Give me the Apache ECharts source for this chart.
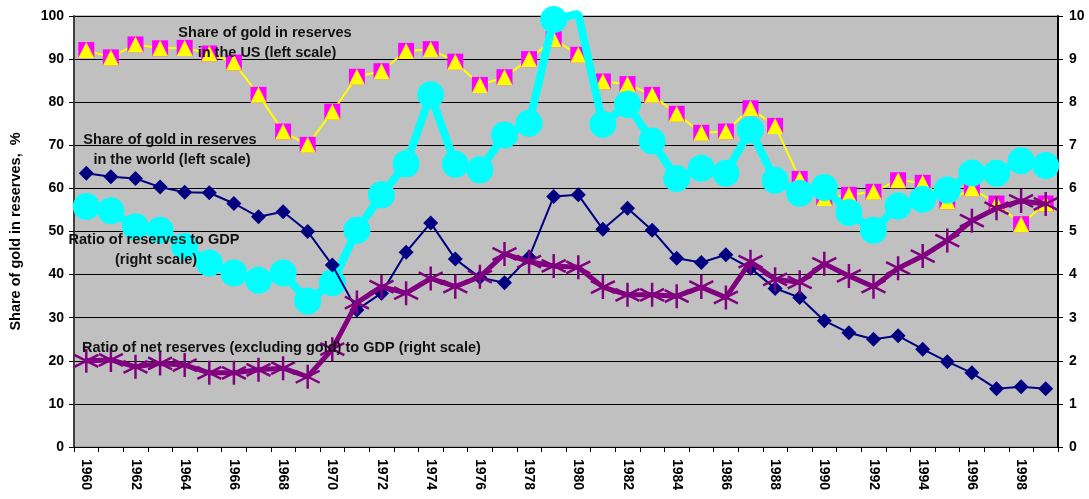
<!DOCTYPE html>
<html>
<head>
<meta charset="utf-8">
<script src="https://cdn.jsdelivr.net/npm/echarts@6/dist/echarts.min.js"></script>
<style>html,body{margin:0;padding:0;background:#fff;}#c{width:1089px;height:499px;}</style>
</head>
<body>
<div id="c"></div>
<script>
var years = [];
for (var y = 1960; y <= 1999; y++) years.push(String(y));

var usShare = [92.1, 90.4, 93.4, 92.5, 92.6, 91.3, 89.2, 81.7, 73.2, 70.1, 77.8, 85.9, 87.2, 91.9, 92.3, 89.4, 84.0, 85.8, 90.0, 94.6, 91.0, 84.8, 84.2, 81.7, 77.3, 72.9, 73.2, 78.6, 74.5, 62.2, 57.8, 58.5, 59.2, 61.9, 61.3, 57.0, 60.0, 56.5, 51.7, 56.5];
var worldShare = [63.5, 62.7, 62.3, 60.3, 59.1, 59.0, 56.5, 53.4, 54.6, 50.0, 42.2, 31.8, 35.7, 45.2, 52.0, 43.6, 39.3, 38.1, 44.0, 58.1, 58.5, 50.5, 55.4, 50.3, 43.8, 42.8, 44.6, 41.5, 36.8, 34.7, 29.3, 26.5, 25.0, 25.8, 22.7, 19.8, 17.2, 13.5, 14.0, 13.5];
var reservesGdp = [5.58, 5.48, 5.11, 5.03, 4.65, 4.27, 4.04, 3.87, 4.04, 3.39, 3.81, 5.03, 5.85, 6.57, 8.17, 6.56, 6.43, 7.24, 7.51, 9.92, 10.05, 7.49, 7.95, 7.10, 6.23, 6.47, 6.35, 7.36, 6.19, 5.89, 6.02, 5.44, 5.03, 5.59, 5.75, 5.96, 6.36, 6.35, 6.64, 6.53];
var netGdp = [2.00, 2.02, 1.86, 1.94, 1.90, 1.72, 1.72, 1.79, 1.83, 1.63, 2.27, 3.35, 3.72, 3.57, 3.91, 3.72, 3.95, 4.48, 4.30, 4.20, 4.17, 3.71, 3.53, 3.53, 3.50, 3.71, 3.47, 4.30, 3.89, 3.82, 4.25, 3.97, 3.72, 4.15, 4.43, 4.79, 5.25, 5.54, 5.71, 5.64];

var leftMax = 100, rightMax = 10;
var FONT = 'Arial, "Liberation Sans", sans-serif';

var chart = echarts.init(document.getElementById('c'), null, {renderer: 'canvas'});

var starPath = 'path://M0,-10L0,10M-8.66,-5L8.66,5M-8.66,5L8.66,-5';

var cyanData = reservesGdp.map(function (v) {
  return v > rightMax ? {value: v, symbol: 'none'} : v;
});

function note(text, x, y, align) {
  return {type: 'text', x: x, y: y, z: 100, style: {text: text, textAlign: align || 'center', textVerticalAlign: 'middle', font: 'bold 14.5px ' + FONT, fill: '#111'}};
}

chart.setOption({
  animation: false,
  backgroundColor: '#ffffff',
  grid: {left: 71, right: 31, top: 16, bottom: 52, show: true, backgroundColor: '#C0C0C0', borderColor: '#808080', borderWidth: 1},
  xAxis: {
    type: 'category', data: years, boundaryGap: true,
    axisLine: {show: true, lineStyle: {color: '#000', width: 1}},
    axisTick: {show: true, length: 5, interval: 0, lineStyle: {color: '#000'}},
    axisLabel: {interval: 1, rotate: -90, margin: 12, color: '#000', fontWeight: 'bold', fontSize: 14, fontFamily: FONT},
    splitLine: {show: false}
  },
  yAxis: [{
    type: 'value', min: 0, max: leftMax, interval: 10, position: 'left',
    name: 'Share of gold in reserves,  %', nameLocation: 'middle', nameRotate: 90, nameGap: 51,
    nameTextStyle: {color: '#000', fontWeight: 'bold', fontSize: 14.5, fontFamily: FONT},
    axisLine: {show: true, lineStyle: {color: '#404040', width: 2}},
    axisTick: {show: true, length: 5, lineStyle: {color: '#000'}},
    axisLabel: {color: '#000', fontWeight: 'bold', fontSize: 14, fontFamily: FONT, margin: 10},
    splitLine: {show: true, lineStyle: {color: '#000', width: 1}}
  }, {
    type: 'value', min: 0, max: rightMax, interval: 1, position: 'right',
    axisLine: {show: true, lineStyle: {color: '#000', width: 2}},
    axisTick: {show: true, length: 5, lineStyle: {color: '#000'}},
    axisLabel: {color: '#000', fontWeight: 'bold', fontSize: 14, fontFamily: FONT, margin: 11},
    splitLine: {show: false}
  }],
  series: [{
    name: 'US squares', type: 'line', yAxisIndex: 0, data: usShare, showAllSymbol: true,
    symbol: 'rect', symbolSize: 16, itemStyle: {color: '#FF00FF'},
    lineStyle: {color: '#FFFF00', width: 2}, z: 2
  }, {
    name: 'US triangles', type: 'line', yAxisIndex: 0, data: usShare, showAllSymbol: true,
    symbol: 'triangle', symbolSize: 16, itemStyle: {color: '#FFFF00'},
    lineStyle: {width: 0, opacity: 0}, z: 2
  }, {
    name: 'Ratio of reserves to GDP', type: 'line', yAxisIndex: 1, data: cyanData, clip: false, showAllSymbol: true,
    symbol: 'circle', symbolSize: 27, itemStyle: {color: '#00FFFF'},
    lineStyle: {color: '#00FFFF', width: 8}, z: 3
  }, {
    name: 'World', type: 'line', yAxisIndex: 0, data: worldShare, showAllSymbol: true,
    symbol: 'diamond', symbolSize: 15, itemStyle: {color: '#000080'},
    lineStyle: {color: '#000080', width: 2}, z: 4
  }, {
    name: 'Net reserves', type: 'line', yAxisIndex: 1, data: netGdp, showAllSymbol: true,
    symbol: starPath, symbolSize: 24, itemStyle: {color: 'rgba(0,0,0,0)', borderColor: '#800080', borderWidth: 2.5},
    lineStyle: {color: '#800080', width: 5}, z: 5
  }],
  graphic: [
    note('Share of gold in reserves', 265, 33),
    note('in the US (left scale)', 267, 53),
    note('Share of gold in reserves', 170, 140),
    note('in the world (left scale)', 172, 160),
    note('Ratio of reserves to GDP', 154, 240),
    note('(right scale)', 156, 260),
    note('Ratio of net reserves (excluding gold) to GDP (right scale)', 82, 348, 'left')
  ]
});
</script>
</body>
</html>
